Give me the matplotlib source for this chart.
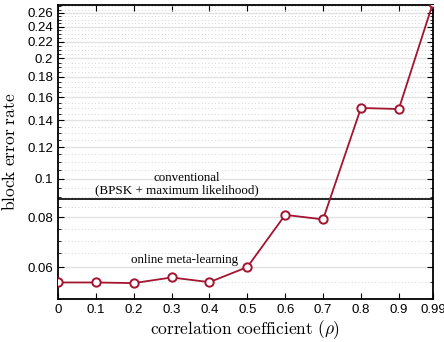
import numpy as np
import matplotlib
matplotlib.use('Agg')
import matplotlib.pyplot as plt
from matplotlib.ticker import FixedLocator, NullFormatter

rho = [0, 0.1, 0.2, 0.3, 0.4, 0.5, 0.6, 0.7, 0.8, 0.9, 0.99]
bler_meta = [0.0550, 0.0550, 0.0548, 0.0566, 0.0551, 0.0601, 0.0812, 0.0791, 0.1503, 0.1494, 0.275]
bler_conv = 0.0890

xticks = [0, 0.1, 0.2, 0.3, 0.4, 0.5, 0.6, 0.7, 0.8, 0.9, 0.99]
xticklabels = ['0', '0.1', '0.2', '0.3', '0.4', '0.5', '0.6', '0.7', '0.8', '0.9', '0.99']
yticks = [0.06, 0.08, 0.1, 0.12, 0.14, 0.16, 0.18, 0.2, 0.22, 0.24, 0.26]
yticklabels = ['0.06', '0.08', '0.1', '0.12', '0.14', '0.16', '0.18', '0.2', '0.22', '0.24', '0.26']

plt.rcParams['mathtext.fontset'] = 'cm'
plt.rcParams['font.family'] = 'Liberation Sans'

red = '#a2142f'

fig = plt.figure(figsize=(4.44, 3.42), dpi=100)
ax = fig.add_axes([0.1306, 0.1257, 0.8444, 0.8596])

ax.set_yscale('log')
ax.set_xlim(0, 0.99)
ax.set_ylim(0.05, 0.272)

ax.axhline(bler_conv, color='black', lw=1.2, zorder=3)
ax.plot(rho, bler_meta, color=red, lw=1.3, marker='o', ms=6,
        mfc='white', mec=red, mew=1.4, zorder=4)

ax.yaxis.set_major_locator(FixedLocator(yticks))
ax.set_yticklabels(yticklabels)
ax.yaxis.set_minor_locator(FixedLocator(np.arange(0.05, 0.2751, 0.005)))
ax.yaxis.set_minor_formatter(NullFormatter())
ax.set_xticks(xticks)
ax.set_xticklabels(xticklabels)

ax.grid(True, which='major', axis='y', color='#e3e3e3', lw=1.0, ls='-')
ax.grid(True, which='minor', axis='y', color='#c8c8c8', lw=0.6, ls=(0, (1, 3)))
ax.set_axisbelow(True)

ax.tick_params(which='both', direction='in', top=True, right=True, labelsize=9.5)
ax.tick_params(which='major', length=4, width=0.8)
ax.tick_params(which='minor', length=2, width=0.6)
for s in ax.spines.values():
    s.set_linewidth(1.3)

ax.set_ylabel(r'$\mathrm{block\ error\ rate}$', fontsize=12.5, labelpad=7)
ax.set_xlabel(r'$\mathrm{correlation\ coefficient}\ (\rho)$', fontsize=12.5, labelpad=2)

ax.text(0.34, 0.1005, 'conventional', family='Liberation Serif', fontsize=9.4,
        ha='center', va='center')
ax.text(0.315, 0.0937, '(BPSK + maximum likelihood)', family='Liberation Serif',
        fontsize=9.4, ha='center', va='center')
ax.text(0.335, 0.0625, 'online meta-learning', family='Liberation Serif',
        fontsize=9.4, ha='center', va='center')

fig.savefig('out.png', dpi=100)
